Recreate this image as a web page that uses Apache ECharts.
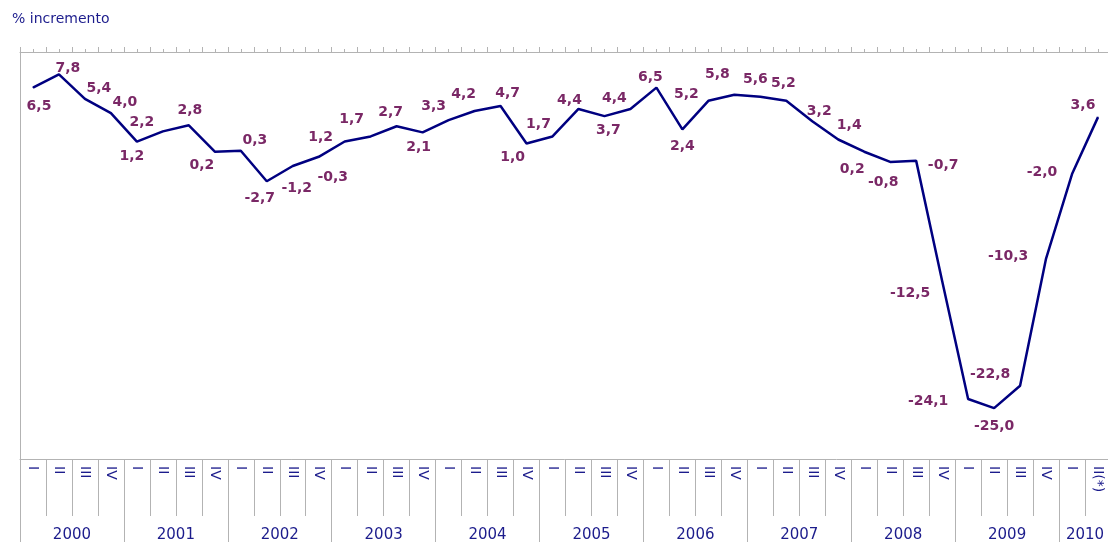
<!DOCTYPE html>
<html>
<head>
<meta charset="utf-8">
<script src="https://cdn.jsdelivr.net/npm/echarts@6/dist/echarts.min.js"></script>
<style>
  html, body { margin: 0; padding: 0; background: #fff; }
  #chart { width: 1108px; height: 542px; }
</style>
</head>
<body>
<div id="chart"></div>
<script>
// años y trimestres
const years = ['2000', '2001', '2002', '2003', '2004', '2005', '2006', '2007', '2008', '2009', '2010'];
const quartersPerYear = [4, 4, 4, 4, 4, 4, 4, 4, 4, 4, 2];
const quarterNames = ['I', 'II', 'III', 'IV'];
const lastQuarterLabel = 'II(*)';

// % incremento trimestral
const values = [
  6.5, 7.8, 5.4, 4.0,
  1.2, 2.2, 2.8, 0.2,
  0.3, -2.7, -1.2, -0.3,
  1.2, 1.7, 2.7, 2.1,
  3.3, 4.2, 4.7, 1.0,
  1.7, 4.4, 3.7, 4.4,
  6.5, 2.4, 5.2, 5.8,
  5.6, 5.2, 3.2, 1.4,
  0.2, -0.8, -0.7, -12.5,
  -24.1, -25.0, -22.8, -10.3,
  -2.0, 3.6
];

// desplazamiento de cada etiqueta respecto a su punto (px)
const labelOffsets = [
  [6, 19], [9, -6], [14, -10], [14, -11],
  [-5, 15], [-21, -9], [1, -15], [-13, 14],
  [14, -10], [-7, 17], [4, 22], [14, 21],
  [-24, -4], [-19, -17], [-6, -14], [-4, 15],
  [-15, -14], [-11, -17], [7, -13], [-14, 14],
  [-14, -12], [-9, -9], [4, 14], [-16, -11],
  [-6, -10], [0, 17], [-22, -6], [-17, -20],
  [-5, -17], [-3, -17], [7, -10], [11, -14],
  [-12, 18], [-7, 20], [27, 4], [-32, 12],
  [-40, 2], [0, 18], [-30, -11], [-38, -2],
  [-30, -2], [-15, -12]
];

const GRAY = '#b3b3b3';
const NAVY = '#1c1c8c';

// etiquetas de trimestre y límites de año
const quarterLabels = [];
const yearBounds = [0];
const yearCenters = [];
let pos = 0;
years.forEach((y, i) => {
  const n = quartersPerYear[i];
  for (let q = 0; q < n; q++) {
    const isLast = i === years.length - 1 && q === n - 1;
    quarterLabels.push(isLast ? lastQuarterLabel : quarterNames[q]);
  }
  yearCenters.push(pos + n / 2);
  pos += n;
  yearBounds.push(pos);
});
const total = pos;

const seriesData = values.map((v, i) => ({
  value: v,
  label: { offset: labelOffsets[i] }
}));

const chart = echarts.init(document.getElementById('chart'));

chart.setOption({
  animation: false,
  textStyle: { fontFamily: 'DejaVu Sans' },
  title: {
    text: '% incremento',
    left: 7,
    top: 7,
    textStyle: { fontSize: 14, fontWeight: 'normal', color: NAVY, fontFamily: 'DejaVu Sans' }
  },
  grid: { left: 20, right: -3, top: 52, bottom: 83, containLabel: false, outerBoundsMode: 'none' },
  xAxis: [
    {
      type: 'category',
      data: quarterLabels,
      boundaryGap: true,
      position: 'bottom',
      axisLine: { onZero: false, lineStyle: { color: GRAY, width: 1 } },
      axisTick: { show: true, interval: 0, length: 57, lineStyle: { color: GRAY } },
      axisLabel: { interval: 0, rotate: -90, margin: 7, color: NAVY, fontSize: 14 },
      splitLine: { show: false }
    },
    {
      type: 'value',
      min: 0,
      max: total,
      position: 'bottom',
      axisLine: { show: false, onZero: false },
      splitLine: { show: false },
      axisTick: { show: true, customValues: yearBounds, length: 83, lineStyle: { color: GRAY } },
      axisLabel: {
        customValues: yearCenters,
        margin: 69,
        color: NAVY,
        fontSize: 15,
        formatter: (v) => years[yearCenters.indexOf(v)] || ''
      }
    },
    {
      type: 'value',
      min: 0,
      max: total,
      interval: 1,
      position: 'top',
      axisLine: { onZero: false, lineStyle: { color: GRAY } },
      axisTick: { show: true, length: 5, lineStyle: { color: GRAY } },
      minorTick: { show: true, splitNumber: 2, length: 3, lineStyle: { color: GRAY } },
      axisLabel: { show: false },
      splitLine: { show: false }
    }
  ],
  yAxis: {
    type: 'value',
    min: -30,
    max: 10,
    axisLine: { show: true, onZero: false, lineStyle: { color: GRAY } },
    axisTick: { show: false },
    axisLabel: { show: false },
    splitLine: { show: false }
  },
  series: [
    {
      type: 'line',
      xAxisIndex: 0,
      yAxisIndex: 0,
      data: seriesData,
      symbol: 'circle',
      symbolSize: 1,
      itemStyle: { color: '#000080' },
      lineStyle: { color: '#000080', width: 2.5 },
      label: {
        show: true,
        position: 'inside',
        align: 'center',
        verticalAlign: 'middle',
        color: '#7a2866',
        fontWeight: 'bold',
        fontSize: 14,
        fontFamily: 'DejaVu Sans',
        formatter: (p) => p.value.toFixed(1).replace('.', ',')
      }
    }
  ]
});
</script>
</body>
</html>
